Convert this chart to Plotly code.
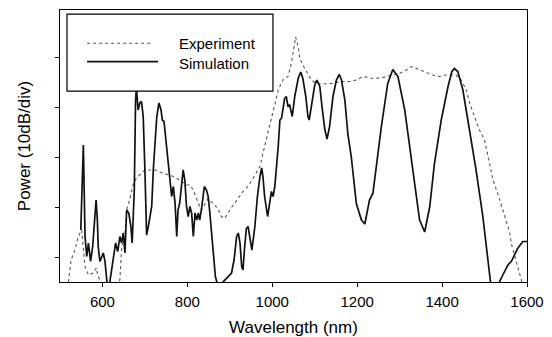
import plotly.graph_objects as go

# Simulation (solid) — wavelength (nm) / power (dB, 10 dB per division)
sim_wl = [549,555,559,563,567,569,572,577,581,585,
          588,590,594,598,602,606,610,614,618,625,
          631,636,641,645,649,653,657,662,667,670,
          675,678,680,684,688,692,696,700,704,708,
          716,720,724,728,733,738,741,745,751,759,
          763,767,771,775,778,782,790,794,798,802,
          806,810,814,818,822,826,829,833,840,845,
          849,853,857,861,866,871,876,884,896,904,
          910,916,920,924,928,931,935,939,943,947,
          952,959,965,971,975,978,982,989,994,998,
          1002,1006,1014,1018,1022,1029,1033,1037,1041,1047,
          1053,1061,1067,1072,1079,1084,1087,1094,1100,1105,
          1112,1118,1124,1129,1135,1143,1151,1158,1163,1171,
          1178,1186,1198,1210,1218,1229,1237,1257,1272,1284,
          1296,1312,1328,1347,1359,1371,1382,1398,1414,1423,
          1429,1437,1449,1465,1480,1496,1508,1514,1522,1535,
          1543,1555,1563,1571,1578,1590,1600]
sim_pw = [10.4,27.4,9.1,5.1,7.8,5.8,4.1,7.1,12.4,16.4,
          12.4,7.1,4.1,5.1,5.8,4.1,0.1,-3,0.4,4.4,
          7.8,6.1,9.1,7.8,9.8,5.8,14.4,13.8,11.1,7.8,
          18.4,36.4,38.8,34.4,35.8,36.1,33.1,22.4,9.4,11.1,
          15.1,22.8,27.8,33.1,35.8,34.4,32.4,32.1,27.1,19.8,
          17.1,19.1,15.8,9.1,14.4,15.8,22.4,20.4,15.1,13.1,
          15.1,13.8,9.1,13.8,12.4,13.8,12.4,14.4,19.1,18.4,
          17.1,13.8,9.8,5.1,1.1,-0.5,-3,0,1.1,1.8,
          4.4,9.1,9.8,7.8,3.1,2.4,7.1,10.7,11.1,9.1,
          6.4,11.1,17.1,21.1,22.8,21.1,17.1,13.1,16.4,18.1,
          17.1,19.1,27.1,32.4,32.8,36.7,37.1,35.1,35.4,33.1,
          37.1,40.7,42,40.7,37.1,33.1,32.4,36.4,39.4,40.4,
          39.1,34.4,30.4,28.6,31.1,37.1,40.4,41.5,40.4,36.4,
          29.6,25.1,15.7,12.4,11.6,16.4,17.7,31.1,39.7,42.5,
          41.1,34.4,24.4,12.4,10,15.1,23.7,32.4,39.1,42.1,
          42.7,42.1,38.4,30.4,22.4,13.1,3.7,0,-3,0,
          1.4,3.4,4.1,5.4,6.7,8.1,8.1]

# Experiment (dotted)
exp_wl = [520,526,535,543,551,559,567,575,578,582,
          586,589,594,618,641,645,653,657,665,672,
          680,691,700,712,724,735,747,759,767,782,
          798,806,814,826,833,849,861,872,880,888,
          900,916,931,943,955,971,978,986,994,1006,
          1014,1025,1037,1045,1051,1055,1061,1065,1072,1080,
          1092,1104,1120,1139,1163,1182,1198,1214,1237,1261,
          1280,1300,1316,1328,1339,1355,1378,1394,1410,1433,
          1445,1457,1465,1476,1488,1500,1512,1520,1531,1543,
          1551,1559,1563,1571,1578,1588]
exp_pw = [0,4.4,6.4,9.1,10.4,3.1,1.4,1.8,1.8,2.4,
          2.8,1.2,0.4,-3,0.4,6.4,9.8,14.4,16.8,19.4,
          20.8,21.8,22.4,22.4,22.4,22,21.7,21.4,21.1,20.4,
          19.4,19.4,18.4,15.7,14.4,16.7,15.7,14.7,13.1,12.7,
          14.4,16.4,18.1,19.1,20.8,23.1,25.7,28.4,31.1,35.1,
          38.4,40.4,41.1,43.7,46.4,49,47.1,44.7,43.4,42.1,
          40.4,39.7,39.6,39.7,40.1,40.1,40.4,41.1,40.7,40.9,
          41.4,41.7,42.4,43.1,42.7,42.1,41.4,41.1,41.4,41.4,
          40.4,38.4,35.8,33.1,30.4,28.4,24,20.4,17.7,14.4,
          12.4,10,7.7,5.1,3.1,0]

x_ticks = [600, 800, 1000, 1200, 1400, 1600]
y_ticks = [5, 15, 25, 35, 45]
series_names = ["Experiment", "Simulation"]

FONT = "Liberation Sans, Arial, sans-serif"

fig = go.Figure()
fig.add_trace(go.Scatter(x=exp_wl, y=exp_pw, mode="lines", name=series_names[0],
                         line=dict(color="#555555", width=1.1, dash="dot"),
                         showlegend=False))
fig.add_trace(go.Scatter(x=sim_wl, y=sim_pw, mode="lines", name=series_names[1],
                         line=dict(color="#111111", width=1.7),
                         showlegend=False))

# Legend drawn as a boxed panel (as in the original figure)
lx0, lx1, ly0, ly1 = 0.015, 0.456, 0.702, 0.985
shapes = [
    dict(type="rect", xref="paper", yref="paper", x0=lx0, x1=lx1, y0=ly0, y1=ly1,
         line=dict(color="black", width=1.2), fillcolor="white", layer="above"),
    dict(type="line", xref="paper", yref="paper", x0=0.058, x1=0.199, y0=0.878, y1=0.878,
         line=dict(color="#555555", width=1.1, dash="dot"), layer="above"),
    dict(type="line", xref="paper", yref="paper", x0=0.058, x1=0.210, y0=0.810, y1=0.810,
         line=dict(color="#111111", width=1.7), layer="above"),
]
annotations = [
    dict(xref="paper", yref="paper", x=0.2505, y=0.877, text=series_names[0],
         showarrow=False, xanchor="left", yanchor="middle",
         font=dict(family=FONT, size=15, color="black")),
    dict(xref="paper", yref="paper", x=0.2505, y=0.805, text=series_names[1],
         showarrow=False, xanchor="left", yanchor="middle",
         font=dict(family=FONT, size=15, color="black")),
]

# The page body adds an 8 px margin, so the figure is sized to fit the window.
fig.update_layout(
    width=544, height=329,
    margin=dict(l=52, r=25, t=2, b=55, autoexpand=False),
    paper_bgcolor="white", plot_bgcolor="white",
    font=dict(family=FONT, color="black"),
    shapes=shapes, annotations=annotations,
    showlegend=False,
)
fig.update_xaxes(
    range=[500, 1600], tickvals=x_ticks, ticktext=[str(v) for v in x_ticks],
    ticks="outside", ticklen=4, tickwidth=1, tickcolor="black",
    showline=True, linecolor="black", linewidth=1.3, mirror=True,
    showgrid=False, zeroline=False, automargin=False,
    ticklabelstandoff=2,
    tickfont=dict(family=FONT, size=15, color="black"),
    title=dict(text="Wavelength (nm)", font=dict(family=FONT, size=17, color="black"), standoff=14),
)
fig.update_yaxes(
    range=[0, 54.4], tickvals=y_ticks, showticklabels=False,
    ticks="outside", ticklen=4, tickwidth=1, tickcolor="black",
    showline=True, linecolor="black", linewidth=1.3, mirror=True,
    showgrid=False, zeroline=False, automargin=False,
    title=dict(text="Power (10dB/div)", font=dict(family=FONT, size=17, color="black"), standoff=19),
)

fig.write_html("out.html")
